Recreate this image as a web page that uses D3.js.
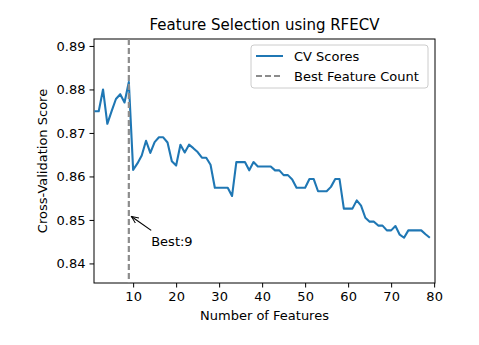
<!DOCTYPE html>
<html>
<head>
<meta charset="utf-8">
<script src="https://cdn.jsdelivr.net/npm/d3@7"></script>
<style>
  body { margin: 0; background: #fff; }
  text { font-family: "DejaVu Sans", sans-serif; fill: #000; }
</style>
</head>
<body>
<svg id="chart" width="479" height="345"></svg>
<script>
// Data
const featureCounts = d3.range(1, 80);
const cvScores = [
  0.8750, 0.8750, 0.8800, 0.8721, 0.8750, 0.8778, 0.8789, 0.8770, 0.8817, 0.8615,
  0.8630, 0.8648, 0.8682, 0.8654, 0.8679, 0.8690, 0.8690, 0.8678, 0.8635, 0.8625,
  0.8673, 0.8655, 0.8673, 0.8665, 0.8656, 0.8643, 0.8643, 0.8627, 0.8574, 0.8574,
  0.8574, 0.8574, 0.8555, 0.8633, 0.8633, 0.8633, 0.8614, 0.8633, 0.8623, 0.8623,
  0.8623, 0.8623, 0.8614, 0.8614, 0.8603, 0.8603, 0.8593, 0.8574, 0.8574, 0.8574,
  0.8594, 0.8594, 0.8566, 0.8566, 0.8566, 0.8576, 0.8594, 0.8594, 0.8526, 0.8526,
  0.8526, 0.8545, 0.8533, 0.8505, 0.8496, 0.8496, 0.8487, 0.8487, 0.8476, 0.8476,
  0.8486, 0.8466, 0.8459, 0.8476, 0.8476, 0.8476, 0.8476, 0.8467, 0.8459
];
const bestCount = 9;
const xTicks = [10, 20, 30, 40, 50, 60, 70, 80];
const yTicks = [0.84, 0.85, 0.86, 0.87, 0.88, 0.89];
const legendItems = ["CV Scores", "Best Feature Count"];

const margin = { top: 39, right: 44, bottom: 62, left: 94 };
const width = 479 - margin.left - margin.right;
const height = 345 - margin.top - margin.bottom;

const svg = d3.select('#chart');
const g = svg.append('g').attr('transform', `translate(${margin.left},${margin.top})`);

const x = d3.scaleLinear().domain([0.9, 80.2]).range([0, width]);
const y = d3.scaleLinear().domain([0.8355, 0.8916]).range([height, 0]);

// Axes
const xAxis = g.append('g').attr('transform', `translate(0,${height})`)
  .call(d3.axisBottom(x).tickValues(xTicks).tickFormat(d3.format('d')).tickSize(4.5).tickPadding(4));
const yAxis = g.append('g')
  .call(d3.axisLeft(y).tickValues(yTicks).tickFormat(d3.format('.2f')).tickSize(4.5).tickPadding(4));
[xAxis, yAxis].forEach(a => {
  a.selectAll('text').style('font-size', '13px').style('font-family', '"DejaVu Sans", sans-serif').attr('fill', '#000');
  a.selectAll('line').attr('stroke', '#000');
  a.select('.domain').remove();
});

// Frame
g.append('rect').attr('width', width).attr('height', height)
  .attr('fill', 'none').attr('stroke', '#000').attr('stroke-width', 1);

// CV line
const line = d3.line().x((d, i) => x(featureCounts[i])).y(d => y(d));
g.append('path').datum(cvScores)
  .attr('d', line)
  .attr('fill', 'none')
  .attr('stroke', '#1f77b4')
  .attr('stroke-width', 2.1)
  .attr('stroke-linejoin', 'round');

// Best count line
g.append('line')
  .attr('x1', x(bestCount)).attr('x2', x(bestCount))
  .attr('y1', 0).attr('y2', height)
  .attr('stroke', '#8c8c8c')
  .attr('stroke-width', 2.2)
  .attr('stroke-dasharray', '6,3');

// Annotation
const defs = svg.append('defs');
defs.append('marker')
  .attr('id', 'arrow')
  .attr('viewBox', '0 -5 10 10')
  .attr('refX', 9).attr('refY', 0)
  .attr('markerWidth', 8).attr('markerHeight', 8)
  .attr('markerUnits', 'userSpaceOnUse')
  .attr('orient', 'auto')
  .append('path')
    .attr('d', 'M0,-4L9,0L0,4')
    .attr('fill', 'none')
    .attr('stroke', '#000')
    .attr('stroke-width', 1.2);

g.append('line')
  .attr('x1', x(14.2)).attr('y1', y(0.8476))
  .attr('x2', x(9.6)).attr('y2', y(0.8508))
  .attr('stroke', '#000')
  .attr('stroke-width', 1.2)
  .attr('marker-end', 'url(#arrow)');

g.append('text')
  .attr('x', x(14.2)).attr('y', y(0.8441))
  .style('font-size', '13px')
  .text(`Best:${bestCount}`);

// Title and labels
svg.append('text')
  .attr('x', margin.left + width / 2).attr('y', 30)
  .attr('text-anchor', 'middle')
  .style('font-size', '15px')
  .text('Feature Selection using RFECV');

svg.append('text')
  .attr('x', margin.left + width / 2).attr('y', 320)
  .attr('text-anchor', 'middle')
  .style('font-size', '13px')
  .text('Number of Features');

svg.append('text')
  .attr('transform', `translate(47,${margin.top + height / 2}) rotate(-90)`)
  .attr('text-anchor', 'middle')
  .style('font-size', '13px')
  .text('Cross-Validation Score');

// Legend
const legend = svg.append('g').attr('transform', 'translate(251,45)');
legend.append('rect')
  .attr('width', 177).attr('height', 43)
  .attr('rx', 3)
  .attr('fill', '#fff').attr('fill-opacity', 0.8)
  .attr('stroke', '#cccccc');
legendItems.forEach((label, i) => {
  const row = legend.append('g').attr('transform', `translate(0,${11 + i * 20})`);
  row.append('line')
    .attr('x1', 5).attr('x2', 32)
    .attr('stroke', i === 0 ? '#1f77b4' : '#8c8c8c')
    .attr('stroke-width', 2)
    .attr('stroke-dasharray', i === 0 ? null : '6,3');
  row.append('text')
    .attr('x', 43).attr('dy', '0.35em')
    .style('font-size', '13px')
    .text(label);
});
</script>
</body>
</html>
